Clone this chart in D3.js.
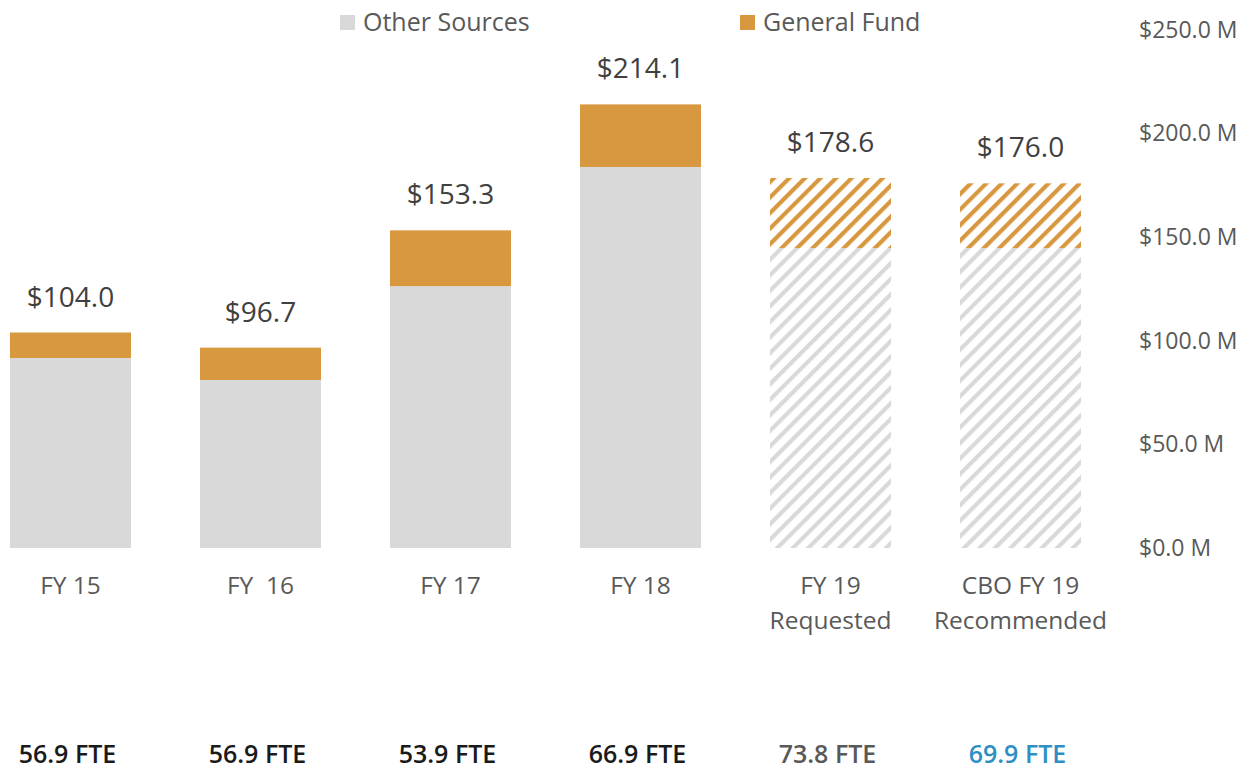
<!DOCTYPE html>
<html>
<head>
<meta charset="utf-8">
<script src="https://cdn.jsdelivr.net/npm/d3@7"></script>
<style>
  body { margin: 0; background: #fff; }
  text { font-family: "Open Sans", Lato, sans-serif; white-space: pre; }
</style>
</head>
<body>
<svg id="chart" width="1258" height="769"></svg>
<script>
// data, in $ millions
var categories = ["FY 15", "FY  16", "FY 17", "FY 18", "FY 19\nRequested", "CBO FY 19\nRecommended"];
var otherSources = [91.7, 81.1, 126.4, 183.9, 144.8, 144.8];
var generalFund = [12.3, 15.6, 26.9, 30.2, 33.8, 31.2];
var totals = ["$104.0", "$96.7", "$153.3", "$214.1", "$178.6", "$176.0"];
var projected = [false, false, false, false, true, true];
var fteLabels = ["56.9 FTE", "56.9 FTE", "53.9 FTE", "66.9 FTE", "73.8 FTE", "69.9 FTE"];
var fteColors = ["#1a1a1a", "#1a1a1a", "#1a1a1a", "#1a1a1a", "#595959", "#2e8fc4"];
var yTicks = [0, 50, 100, 150, 200, 250];

var grey = "#d9d9d9", orange = "#d79840";

var svg = d3.select("#chart");

var x = d3.scaleBand().domain(d3.range(categories.length)).range([-24.5, 1115.5])
    .paddingInner(0.363).paddingOuter(0.1815);
var y = d3.scaleLinear().domain([0, 250]).range([548, 30]);

// hatch patterns for the projected bars
var defs = svg.append("defs");
[["hatchGrey", grey], ["hatchOrange", orange]].forEach(function (p) {
    defs.append("pattern")
        .attr("id", p[0])
        .attr("patternUnits", "userSpaceOnUse")
        .attr("width", 11).attr("height", 11)
        .attr("patternTransform", "rotate(45)")
        .append("rect")
        .attr("x", 0).attr("y", 0)
        .attr("width", 4.2).attr("height", 11)
        .attr("fill", p[1]);
});

var rows = categories.map(function (c, i) {
    return { i: i, other: otherSources[i], gf: generalFund[i], proj: projected[i] };
});

// other sources
svg.append("g").selectAll("rect")
    .data(rows)
    .join("rect")
    .attr("x", d => x(d.i))
    .attr("width", x.bandwidth())
    .attr("y", d => y(d.other))
    .attr("height", d => y(0) - y(d.other))
    .attr("fill", d => d.proj ? "url(#hatchGrey)" : grey);

// general fund
svg.append("g").selectAll("rect")
    .data(rows)
    .join("rect")
    .attr("x", d => x(d.i))
    .attr("width", x.bandwidth())
    .attr("y", d => y(d.other + d.gf))
    .attr("height", d => y(d.other) - y(d.other + d.gf))
    .attr("fill", d => d.proj ? "url(#hatchOrange)" : orange);

// totals above bars
svg.append("g").selectAll("text")
    .data(rows)
    .join("text")
    .attr("x", d => x(d.i) + x.bandwidth() / 2)
    .attr("y", d => y(d.other + d.gf) - 26)
    .attr("text-anchor", "middle")
    .attr("font-size", 28)
    .attr("fill", "#404040")
    .text(d => totals[d.i]);

// category labels
var cat = svg.append("g").selectAll("text")
    .data(rows)
    .join("text")
    .attr("x", d => x(d.i) + x.bandwidth() / 2)
    .attr("y", 594)
    .attr("text-anchor", "middle")
    .attr("font-size", 24.5)
    .attr("fill", "#595959");
cat.each(function (d) {
    var lines = categories[d.i].split("\n");
    var t = d3.select(this);
    lines.forEach(function (l, k) {
        t.append("tspan").attr("x", x(d.i) + x.bandwidth() / 2).attr("dy", k ? 35 : 0).text(l);
    });
});

// y axis on the right
var yAxis = d3.axisRight(y).tickValues(yTicks).tickSize(0).tickPadding(0)
    .tickFormat(d => "$" + d3.format(".1f")(d) + " M");
var ag = svg.append("g").attr("transform", "translate(1139,0)").call(yAxis);
ag.select(".domain").remove();
ag.selectAll("text")
    .attr("font-family", "'Open Sans', Lato, sans-serif")
    .attr("font-size", 23)
    .attr("fill", "#595959");

// FTE row
svg.append("g").selectAll("text")
    .data(rows)
    .join("text")
    .attr("x", d => x(d.i) + x.bandwidth() / 2 - 3)
    .attr("y", 763)
    .attr("text-anchor", "middle")
    .attr("font-family", "Lato, sans-serif")
    .attr("font-size", 25)
    .attr("font-weight", 600)
    .attr("fill", d => fteColors[d.i])
    .text(d => fteLabels[d.i]);

// legend
var legend = [["Other Sources", grey, 340], ["General Fund", orange, 740]];
var lg = svg.append("g").selectAll("g").data(legend).join("g")
    .attr("transform", d => "translate(" + d[2] + ",0)");
lg.append("rect").attr("x", 0).attr("y", 15).attr("width", 15).attr("height", 15).attr("fill", d => d[1]);
lg.append("text").attr("x", 23).attr("y", 31).attr("font-size", 25).attr("fill", "#595959").text(d => d[0]);
</script>
</body>
</html>
